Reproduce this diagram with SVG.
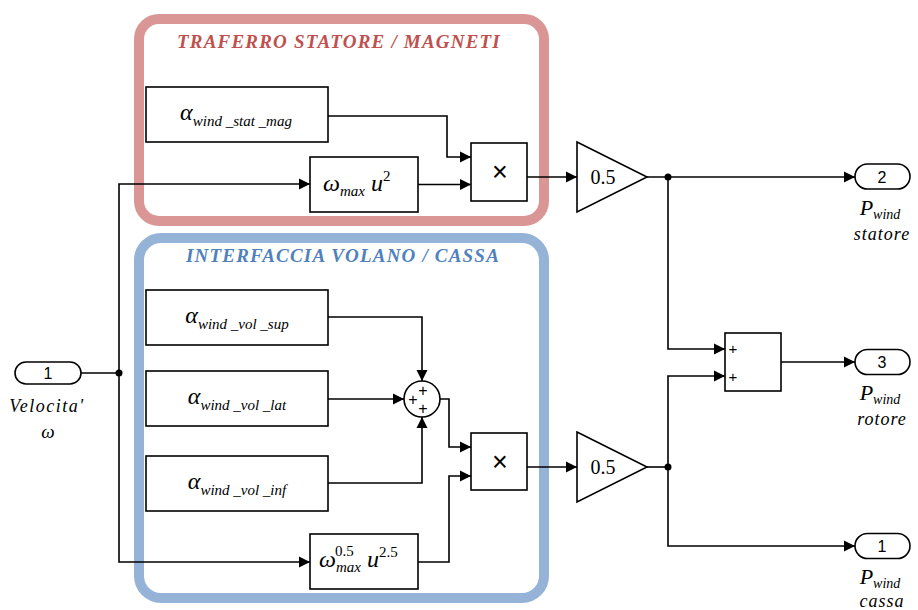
<svg xmlns="http://www.w3.org/2000/svg" width="918" height="610" viewBox="0 0 918 610">
  <defs>
    <marker id="arr" markerUnits="userSpaceOnUse" markerWidth="12" markerHeight="12" refX="11" refY="6" orient="auto">
      <path d="M0,0.5 L11,6 L0,11.5 z" fill="#000"/>
    </marker>
    <style>
      .blk { fill: #fff; stroke: #000; stroke-width: 1.6; }
      .wire { fill: none; stroke: #000; stroke-width: 1.6; marker-end: url(#arr); }
      .wire-plain { fill: none; stroke: #000; stroke-width: 1.6; }
      .math { font-family: "Liberation Serif", "DejaVu Serif", serif; font-style: italic; fill: #000; }
      .num { font-family: "Liberation Serif", "DejaVu Serif", serif; fill: #000; }
      .sans { font-family: "Liberation Sans", Arial, sans-serif; fill: #000; }
      .title { font-family: "Liberation Serif", "DejaVu Serif", serif; font-style: italic; font-weight: bold; font-size: 19px; letter-spacing: 1.2px; text-anchor: middle; }
    </style>
  </defs>

  <!-- grouping frames -->
  <g id="frame-stat">
    <rect x="139" y="19" width="405" height="202" rx="20" fill="none" stroke="#d99694" stroke-width="10"/>
    <text class="title" x="339" y="48" fill="#c0504d">TRAFERRO STATORE / MAGNETI</text>
  </g>
  <g id="frame-vol">
    <rect x="139" y="238" width="405" height="360" rx="22" fill="none" stroke="#95b3d7" stroke-width="10"/>
    <text class="title" x="343" y="262" fill="#4f81bd">INTERFACCIA VOLANO / CASSA</text>
  </g>

  <!-- connectors -->
  <g id="connectors">
    <path class="wire-plain" d="M81,373 H119"/>
    <path class="wire" d="M119,373 V184 H310"/>
    <path class="wire" d="M119,373 V562 H310"/>
    <path class="wire" d="M328,116 H447 V157 H471"/>
    <path class="wire" d="M418,184.5 H471"/>
    <path class="wire" d="M527,177 H577"/>
    <path class="wire" d="M647,177 H855"/>
    <path class="wire" d="M668,177 V349 H725"/>
    <path class="wire" d="M781,362 H855"/>
    <path class="wire" d="M328,317 H422 V381"/>
    <path class="wire" d="M328,399 H404"/>
    <path class="wire" d="M328,483 H422 V417"/>
    <path class="wire" d="M440,399 H449 V447 H471"/>
    <path class="wire" d="M418,562 H449 V476 H471"/>
    <path class="wire" d="M527,467 H577"/>
    <path class="wire-plain" d="M647,467 H668"/>
    <path class="wire" d="M668,467 V376 H725"/>
    <path class="wire" d="M668,467 V546 H855"/>
    <circle cx="119" cy="373" r="3.5" fill="#000"/>
    <circle cx="668" cy="177" r="3.5" fill="#000"/>
    <circle cx="668" cy="467" r="3.5" fill="#000"/>
  </g>

  <!-- input port -->
  <g id="in1">
    <rect class="blk" x="15" y="362" width="66" height="22" rx="11"/>
    <text class="sans" x="48" y="379" font-size="16" text-anchor="middle">1</text>
    <text class="math" x="47" y="412" font-size="18" letter-spacing="1.5" text-anchor="middle">Velocita'</text>
    <text class="math" x="48" y="438" font-size="19" text-anchor="middle">ω</text>
  </g>

  <!-- stator / magnet branch -->
  <g id="alpha-stat-mag">
    <rect class="blk" x="146" y="87" width="182" height="55"/>
    <text class="math" x="236" y="120" text-anchor="middle"><tspan font-size="24">α</tspan><tspan font-size="15" dy="6">wind _stat _mag</tspan></text>
  </g>
  <g id="pow-stat">
    <rect class="blk" x="310" y="157" width="108" height="55"/>
    <text class="math" x="323" y="191"><tspan font-size="24">ω</tspan><tspan font-size="15" dy="5">max</tspan><tspan font-size="24" dx="6" dy="-5">u</tspan><tspan class="num" font-style="normal" font-size="15" dy="-10">2</tspan></text>
  </g>
  <g id="prod-stat">
    <rect class="blk" x="471" y="143" width="56" height="58"/>
    <text class="sans" x="500" y="181" font-size="27" text-anchor="middle">×</text>
  </g>
  <g id="gain-stat">
    <polygon class="blk" points="577,142 647,177 577,212"/>
    <text class="num" x="603" y="184" font-size="20" text-anchor="middle">0.5</text>
  </g>

  <!-- flywheel / casing branch -->
  <g id="alpha-vol-sup">
    <rect class="blk" x="146" y="290" width="182" height="55"/>
    <text class="math" x="237" y="323" text-anchor="middle"><tspan font-size="24">α</tspan><tspan font-size="15" dy="6">wind _vol _sup</tspan></text>
  </g>
  <g id="alpha-vol-lat">
    <rect class="blk" x="146" y="371" width="182" height="55"/>
    <text class="math" x="237" y="404" text-anchor="middle"><tspan font-size="24">α</tspan><tspan font-size="15" dy="6">wind _vol _lat</tspan></text>
  </g>
  <g id="alpha-vol-inf">
    <rect class="blk" x="146" y="456" width="182" height="55"/>
    <text class="math" x="237" y="489" text-anchor="middle"><tspan font-size="24">α</tspan><tspan font-size="15" dy="6">wind _vol _inf</tspan></text>
  </g>
  <g id="sum-vol">
    <circle class="blk" cx="422" cy="399" r="18"/>
    <text class="sans" fill="#000" font-size="16" text-anchor="middle"><tspan x="423" y="396">+</tspan><tspan x="413" y="405">+</tspan><tspan x="423" y="414">+</tspan></text>
  </g>
  <g id="pow-vol">
    <rect class="blk" x="310" y="534" width="108" height="55"/>
    <text class="math" x="319" y="567"><tspan font-size="24">ω</tspan><tspan font-size="15" dy="5">max</tspan><tspan font-size="24" dx="6" dy="-5">u</tspan><tspan class="num" font-style="normal" font-size="15" dy="-10">2.5</tspan></text>
    <text class="num" x="335" y="556" font-size="15">0.5</text>
  </g>
  <g id="prod-vol">
    <rect class="blk" x="471" y="433" width="56" height="57"/>
    <text class="sans" x="500" y="471" font-size="27" text-anchor="middle">×</text>
  </g>
  <g id="gain-vol">
    <polygon class="blk" points="577,432 647,467 577,502"/>
    <text class="num" x="603" y="474" font-size="20" text-anchor="middle">0.5</text>
  </g>

  <!-- rotor sum -->
  <g id="sum-rot">
    <rect class="blk" x="725" y="333" width="56" height="58"/>
    <text class="sans" fill="#000" x="733" y="354" font-size="15" text-anchor="middle">+</text>
    <text class="sans" fill="#000" x="733" y="382" font-size="15" text-anchor="middle">+</text>
  </g>

  <!-- output ports -->
  <g id="out-statore">
    <rect class="blk" x="855" y="164" width="55" height="25" rx="12.5"/>
    <text class="sans" x="882" y="182.5" font-size="16" text-anchor="middle">2</text>
    <text class="math" x="880" y="215" text-anchor="middle"><tspan font-size="22">P</tspan><tspan font-size="14" dy="4">wind</tspan></text>
    <text class="math" x="882" y="240" font-size="18" letter-spacing="1" text-anchor="middle">statore</text>
  </g>
  <g id="out-rotore">
    <rect class="blk" x="855" y="349.5" width="55" height="25" rx="12.5"/>
    <text class="sans" x="882" y="368" font-size="16" text-anchor="middle">3</text>
    <text class="math" x="880" y="400" text-anchor="middle"><tspan font-size="22">P</tspan><tspan font-size="14" dy="4">wind</tspan></text>
    <text class="math" x="882" y="425" font-size="18" letter-spacing="1" text-anchor="middle">rotore</text>
  </g>
  <g id="out-cassa">
    <rect class="blk" x="855" y="533.5" width="55" height="25" rx="12.5"/>
    <text class="sans" x="882" y="552" font-size="16" text-anchor="middle">1</text>
    <text class="math" x="880" y="584" text-anchor="middle"><tspan font-size="22">P</tspan><tspan font-size="14" dy="4">wind</tspan></text>
    <text class="math" x="882" y="607" font-size="18" letter-spacing="1" text-anchor="middle">cassa</text>
  </g>
</svg>
